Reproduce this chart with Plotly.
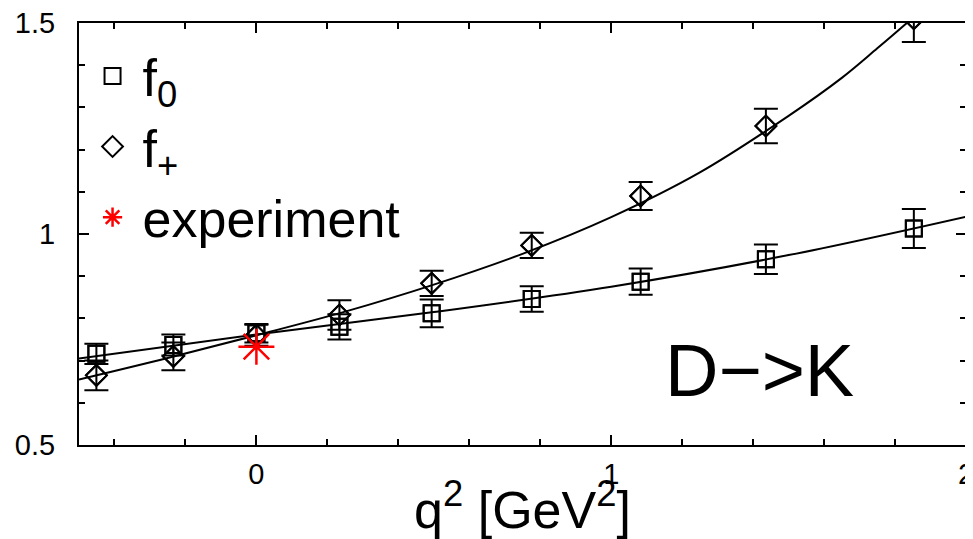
import plotly.graph_objects as go

# ---- data ----
q2 = [-0.451, -0.234, 0.0, 0.234, 0.494, 0.776, 1.083, 1.436, 1.853]
f0_vals = [0.716, 0.737, 0.765, 0.780, 0.812, 0.846, 0.887, 0.940, 1.013]
f0_err = [0.024, 0.025, 0.022, 0.030, 0.033, 0.030, 0.031, 0.035, 0.046]
fp_vals = [0.665, 0.710, 0.760, 0.808, 0.883, 0.973, 1.090, 1.256, 1.510]
fp_err = [0.035, 0.033, 0.025, 0.035, 0.030, 0.030, 0.033, 0.041, 0.055]

exp_q2 = [0.0]
exp_vals = [0.733]

# fitted curves
fit_f0_x = [-0.5, 0.0, 0.5, 1.0, 1.5, 2.0]
fit_f0_y = [0.705, 0.762, 0.815, 0.875, 0.950, 1.041]
fit_fp_x = [-0.5, -0.25, 0.0, 0.25, 0.5, 0.75, 1.0, 1.25, 1.5, 1.65, 1.75, 1.84, 1.9]
fit_fp_y = [0.655, 0.706, 0.760, 0.816, 0.880, 0.953, 1.040, 1.146, 1.280, 1.370, 1.440, 1.505, 1.550]

x_ticks = [0, 1, 2]
x_ticktext = ["0", "1", "2"]
y_ticks = [0.5, 1.0, 1.5]
y_ticktext = ["0.5", "1", "1.5"]

FONT = "Liberation Sans, Arial, Helvetica, sans-serif"
BLACK = "#000000"

fig = go.Figure()

# fit curves
fig.add_trace(go.Scatter(x=fit_f0_x, y=fit_f0_y, mode="lines", line=dict(color=BLACK, width=2, shape="spline"),
                         showlegend=False, hoverinfo="skip"))
fig.add_trace(go.Scatter(x=fit_fp_x, y=fit_fp_y, mode="lines", line=dict(color=BLACK, width=2, shape="spline"),
                         showlegend=False, hoverinfo="skip"))

# error bars + markers
fig.add_trace(go.Scatter(x=q2, y=f0_vals, mode="markers",
                         marker=dict(symbol="square-open", size=16, color=BLACK, line=dict(width=2, color=BLACK)),
                         error_y=dict(type="data", array=f0_err, color=BLACK, thickness=2, width=12),
                         showlegend=False))
fig.add_trace(go.Scatter(x=q2, y=fp_vals, mode="markers",
                         marker=dict(symbol="diamond-open", size=16, color=BLACK, line=dict(width=2, color=BLACK)),
                         error_y=dict(type="data", array=fp_err, color=BLACK, thickness=2, width=12),
                         showlegend=False))

# legend entries (same points, markers only)
fig.add_trace(go.Scatter(x=q2, y=f0_vals, mode="markers", name="f<sub>0</sub>",
                         marker=dict(symbol="square-open", size=16, color=BLACK, line=dict(width=2, color=BLACK))))
fig.add_trace(go.Scatter(x=q2, y=fp_vals, mode="markers", name="f<sub>+</sub>",
                         marker=dict(symbol="diamond-open", size=16, color=BLACK, line=dict(width=2, color=BLACK))))
fig.add_trace(go.Scatter(x=exp_q2, y=exp_vals, mode="markers", name="experiment",
                         marker=dict(symbol="asterisk-open", size=30, color="red", line=dict(width=2.5, color="red"))))

fig.add_annotation(x=1.419, y=0.676, xref="x", yref="y", text="D\u2212>K", showarrow=False,
                   font=dict(family=FONT, size=74, color=BLACK))

axis_common = dict(showline=True, linecolor=BLACK, linewidth=2, mirror="ticks", ticks="inside",
                   ticklen=10, tickwidth=2, tickcolor=BLACK, showgrid=False, zeroline=False,
                   automargin=False, ticklabeloverflow="allow",
                   tickfont=dict(family=FONT, size=29, color=BLACK))

fig.update_xaxes(range=[-0.5, 2.0], tickmode="array", tickvals=x_ticks, ticktext=x_ticktext,
                 minor=dict(dtick=0.2, tick0=0, ticks="inside", ticklen=6, tickwidth=2, tickcolor=BLACK),
                 ticklabelstandoff=2,
                 title=dict(text="q<sup>2</sup> [GeV<sup>2</sup>]", font=dict(family=FONT, size=52, color=BLACK),
                            standoff=0),
                 **axis_common)
fig.update_yaxes(range=[0.5, 1.5], tickmode="array", tickvals=y_ticks, ticktext=y_ticktext,
                 minor=dict(dtick=0.1, tick0=0.5, ticks="inside", ticklen=6, tickwidth=2, tickcolor=BLACK),
                 ticklabelstandoff=16,
                 **axis_common)

# the page body adds an 8px offset, so the figure is 8px smaller and shifted
fig.update_layout(
    width=965, height=531,
    margin=dict(l=71, r=7, t=15, b=94),
    paper_bgcolor="white", plot_bgcolor="white",
    font=dict(family=FONT, color=BLACK),
    legend=dict(x=0.004, y=0.97, xanchor="left", yanchor="top", bgcolor="rgba(0,0,0,0)",
                font=dict(family=FONT, size=52, color=BLACK), itemwidth=50, tracegroupgap=0),
)

fig.write_html("out.html")
